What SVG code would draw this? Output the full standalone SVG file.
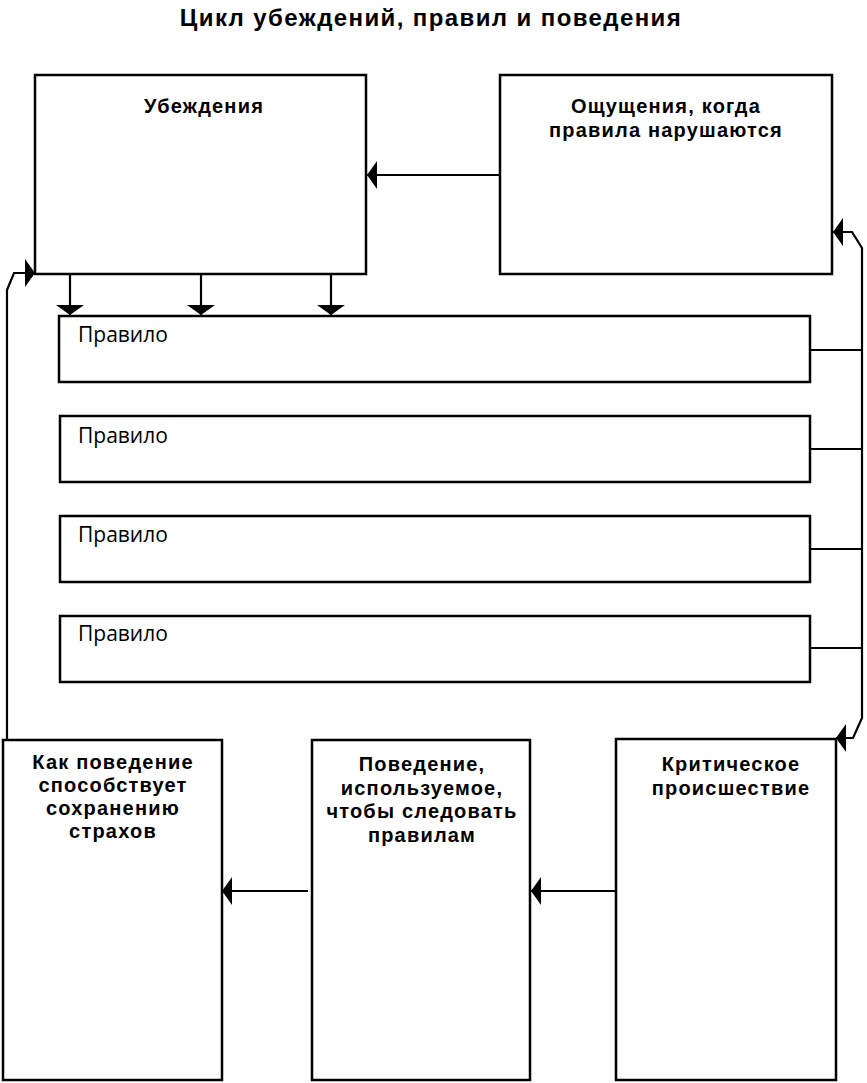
<svg xmlns="http://www.w3.org/2000/svg" width="867" height="1083" viewBox="0 0 867 1083">
<style>
.box{fill:#fff;stroke:#000;stroke-width:2.5}
.ln{fill:none;stroke:#000;stroke-width:2.2}
.arr{marker-end:url(#ah)}
.h{font-family:"Liberation Sans",Arial,sans-serif;font-weight:bold;font-size:20px;letter-spacing:1.2px;text-anchor:middle;fill:#000}
.t{font-family:"Liberation Sans",Arial,sans-serif;font-weight:bold;font-size:24px;letter-spacing:1.4px;text-anchor:middle;fill:#000}
.r{font-family:"Open Sans","Liberation Sans",sans-serif;font-size:21px;fill:#000}
</style>
<defs>
<marker id="ah" viewBox="0 -14 10 28" refX="10" refY="0" markerWidth="10" markerHeight="28" markerUnits="userSpaceOnUse" orient="auto">
<path d="M0,-14 L10,0 L0,14 Z" fill="#000"/>
</marker>
</defs>
<rect width="867" height="1083" fill="#fff"/>
<text class="t" x="431" y="26">Цикл убеждений, правил и поведения</text>

<g id="connectors">
<line class="ln arr" x1="500" y1="175" x2="367" y2="175"/>
<line class="ln arr" x1="70" y1="275" x2="70" y2="315"/>
<line class="ln arr" x1="201" y1="275" x2="201" y2="315"/>
<line class="ln arr" x1="331" y1="275" x2="331" y2="315"/>
<path class="ln arr" d="M7,740 L7,290 L14,273 L35,273"/>
<path class="ln arr" d="M862,490 L862,248 L852,232 L833,232"/>
<path class="ln arr" d="M862,490 L862,718 L853,738 L836,738"/>
<line class="ln" x1="810" y1="350" x2="862" y2="350"/>
<line class="ln" x1="810" y1="449" x2="862" y2="449"/>
<line class="ln" x1="810" y1="549" x2="862" y2="549"/>
<line class="ln" x1="810" y1="648" x2="862" y2="648"/>
<line class="ln arr" x1="615" y1="891" x2="531" y2="891"/>
<line class="ln arr" x1="308" y1="891" x2="222" y2="891"/>
</g>

<g id="beliefs">
<rect class="box" x="35" y="75" width="331" height="199"/>
<text class="h" x="204" y="113">Убеждения</text>
</g>
<g id="feelings">
<rect class="box" x="500" y="75" width="332" height="199"/>
<text class="h" x="666" y="113">Ощущения, когда</text>
<text class="h" x="666" y="137">правила нарушаются</text>
</g>
<g id="rule1">
<rect class="box" x="59" y="316" width="751" height="66"/>
<text class="r" x="78" y="342">Правило</text>
</g>
<g id="rule2">
<rect class="box" x="60" y="416" width="750" height="66"/>
<text class="r" x="78" y="443">Правило</text>
</g>
<g id="rule3">
<rect class="box" x="60" y="516" width="750" height="66"/>
<text class="r" x="78" y="542">Правило</text>
</g>
<g id="rule4">
<rect class="box" x="60" y="616" width="750" height="66"/>
<text class="r" x="78" y="641">Правило</text>
</g>
<g id="how-behavior">
<rect class="box" x="3" y="740" width="219" height="340"/>
<text class="h" x="113" y="769">Как поведение</text>
<text class="h" x="113" y="792">способствует</text>
<text class="h" x="113" y="815">сохранению</text>
<text class="h" x="113" y="838">страхов</text>
</g>
<g id="behavior">
<rect class="box" x="312" y="740" width="218" height="340"/>
<text class="h" x="422" y="771">Поведение,</text>
<text class="h" x="422" y="795">используемое,</text>
<text class="h" x="422" y="818">чтобы следовать</text>
<text class="h" x="422" y="842">правилам</text>
</g>
<g id="critical">
<rect class="box" x="616" y="739" width="220" height="341"/>
<text class="h" x="731" y="771">Критическое</text>
<text class="h" x="731" y="795">происшествие</text>
</g>
</svg>
